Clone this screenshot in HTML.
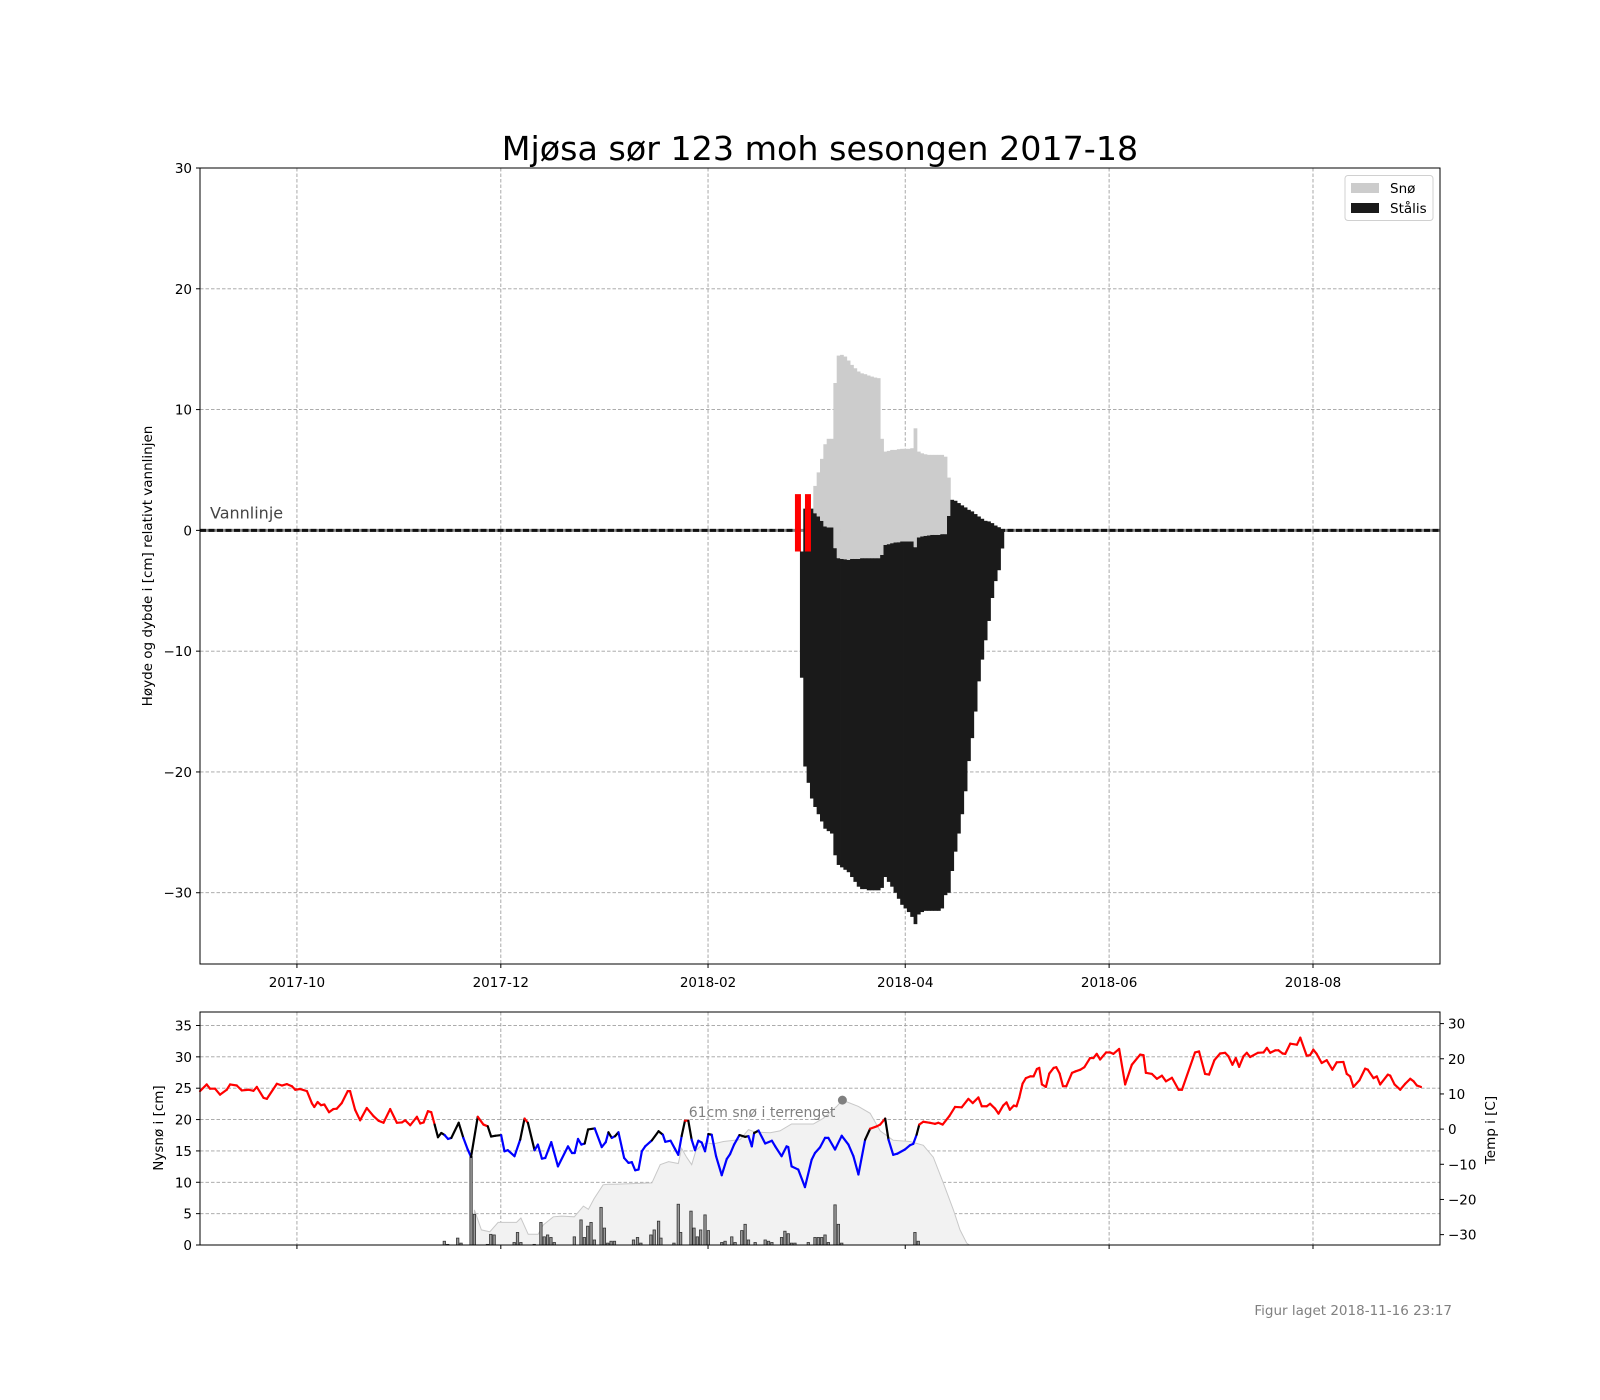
<!DOCTYPE html>
<html><head><meta charset="utf-8"><style>
html,body{margin:0;padding:0;background:#fff;}
svg{display:block;font-family:"DejaVu Sans","Liberation Sans",sans-serif;}
</style></head><body>
<svg id="fig" width="1600" height="1400" viewBox="0 0 1600 1400" xmlns="http://www.w3.org/2000/svg">
<rect width="1600" height="1400" fill="#fff"/>
<text x="820" y="160" font-size="33.3" text-anchor="middle" fill="#000">Mjøsa sør 123 moh sesongen 2017-18</text>
<text transform="translate(152,566) rotate(-90)" font-size="13.5" text-anchor="middle">Høyde og dybde i [cm] relativt vannlinjen</text>
<text transform="translate(163,1128) rotate(-90)" font-size="13.5" text-anchor="middle">Nysnø i [cm]</text>
<text transform="translate(1495,1130) rotate(-90)" font-size="13.5" text-anchor="middle">Temp i [C]</text>
<text x="1452" y="1315" font-size="13.5" text-anchor="end" fill="#808080">Figur laget 2018-11-16 23:17</text>
<g id="topg"></g>
<g id="botg"></g>
</svg>
<script>
// ---- top chart data ----
const monthTickDays = [29, 90, 152, 211, 272, 333];
const monthTickLabels = ['2017-10','2017-12','2018-02','2018-04','2018-06','2018-08'];
const yTicksTop = [30,20,10,0,-10,-20,-30];
const iceStartDay = 180;
const iceTop = [-1.75,1.8,-1.75,1.8,1.42,1.15,0.79,0.32,0.24,0.24,-1.47,-2.3,-2.36,-2.39,-2.44,-2.36,-2.36,-2.36,-2.3,-2.3,-2.3,-2.3,-2.3,-2.3,-2.03,-1.2,-1.14,-1.06,-1.0,-0.98,-0.92,-0.92,-0.92,-0.92,-1.39,-0.59,-0.5,-0.45,-0.42,-0.37,-0.37,-0.37,-0.31,-0.31,1.2,2.53,2.45,2.26,2.07,1.9,1.7,1.57,1.35,1.15,0.96,0.79,0.74,0.6,0.4,0.26,0.1];
const iceBottom = [-12.2,-19.55,-20.9,-22.2,-22.9,-23.5,-24.1,-24.7,-24.9,-25.1,-26.9,-27.7,-27.9,-28.1,-28.3,-28.7,-29.1,-29.5,-29.7,-29.7,-29.8,-29.8,-29.8,-29.8,-29.6,-28.7,-29.1,-29.5,-30.0,-30.5,-31.0,-31.3,-31.6,-32.0,-32.6,-31.8,-31.6,-31.5,-31.5,-31.5,-31.5,-31.5,-31.3,-30.2,-30.0,-28.2,-26.6,-25.1,-23.5,-21.6,-19.1,-17.2,-15.0,-12.5,-10.7,-9.1,-7.5,-5.6,-4.2,-3.3,-1.5];
const snowTop = [-1.75,1.8,-1.75,1.8,3.68,4.8,5.92,7.13,7.58,7.58,12.2,14.47,14.53,14.39,14.06,13.7,13.42,13.15,13.0,12.93,12.82,12.73,12.65,12.6,7.58,6.52,6.58,6.66,6.66,6.72,6.75,6.75,6.75,6.8,8.45,6.52,6.38,6.3,6.25,6.25,6.25,6.25,6.25,6.1,4.37,2.53,2.45,2.26,2.07,1.9,1.7,1.57,1.35,1.15,0.96,0.79,0.74,0.6,0.4,0.26,0.1];
const redMarkDays = [178.9, 181.9];
const redMarkTop = 3.0, redMarkBottom = -1.75;

// ---- bottom chart data ----
const nyTicks = [0,5,10,15,20,25,30,35];
const tempTicks = [-30,-20,-10,0,10,20,30];
const tempDays = [0,2,3,4.5,6,8,9,11,12.5,14.5,16,17,19,20,23,24.5,26,27.5,28.5,30,32,33.5,34.2,35.2,36.2,37.2,38.6,39.9,40.9,42.4,44.2,44.9,46.4,47.9,49.9,51.9,53.4,54.9,56.9,58.9,60.4,61.4,62.9,64.9,65.9,66.9,68.2,69.2,70.2,71.2,72.2,73.2,74.2,75.2,77.4,78.8,80.1,81.1,83.1,84.8,86.1,87.1,88.3,90.1,91.1,92.1,94.1,95.8,97.1,98.1,100.1,101.1,102.3,103.3,105.1,107.1,110.1,111.3,112.1,113.1,114.1,115.1,116.1,118.1,120.2,121.4,122.2,123.2,124.2,125.2,126.9,128.2,129.2,130.2,131.2,132.2,133.2,135.2,137.2,138.5,139.2,140.8,142.1,143.1,144.1,145.1,146.1,147.1,148.1,149.1,150.1,151.1,152.1,153.1,154.4,156.1,157.6,158.6,159.8,161.4,163.1,164.1,165.1,165.8,167.1,169.1,171.1,172.1,174.0,175.5,176.0,177.0,179.0,181.0,183.0,184.0,185.5,187.0,188.0,190.0,192.0,194.0,195.5,197.0,199.0,200.5,202.5,203.5,205.0,206.0,207.4,208.6,210.9,212.4,213.4,214.4,215.2,216.4,218.4,219.9,220.9,222.2,224.2,225.9,227.9,229.9,231.2,232.9,233.9,235.4,236.4,237.9,238.9,240.3,241.3,242.3,243.5,244.3,245.1,246.1,247.1,248.4,249.4,250.4,251.1,251.9,253.1,254.1,255.4,256.2,257.2,258.2,259.2,260.9,261.9,263.4,264.6,266.3,267.3,268.3,269.3,271.1,272.3,273.3,275.0,276.8,278.8,281.3,282.3,283.0,284.8,286.3,287.8,289.0,290.8,292.8,293.8,297.7,298.9,300.7,301.9,303.5,305.2,306.7,307.7,308.9,309.9,310.9,312.2,313.2,314.2,316.5,318.2,319.2,320.2,321.7,322.7,323.9,324.7,326.2,328.2,329.2,331.1,332.1,333.1,334.1,335.6,337.1,338.8,340.1,342.1,343.1,344.1,345.1,346.9,348.6,349.4,351.1,352.1,353.1,355.4,356.1,357.4,359.1,360.6,362.1,363.1,364.1,365.3];
const tempVals = [10.8,12.7,11.5,11.5,9.8,11.2,12.7,12.4,11.0,11.2,10.9,12.0,8.9,8.6,12.9,12.4,12.8,12.2,11.2,11.4,10.8,7.3,6.3,7.7,6.8,7.0,4.8,5.7,5.8,7.4,10.8,10.8,5.5,2.5,6.0,3.7,2.4,1.8,5.7,1.8,1.9,2.5,1.1,3.5,1.6,1.9,5.1,4.8,1.3,-2.3,-1.1,-1.7,-2.8,-2.5,1.8,-2.5,-5.8,-7.9,3.5,1.3,0.8,-2.1,-1.9,-1.7,-6.3,-6.0,-7.7,-3.0,3.0,1.8,-6.0,-4.4,-8.4,-8.2,-3.7,-10.6,-4.9,-6.8,-6.8,-2.8,-4.4,-4.1,-0.1,0.2,-5.1,-3.7,-0.9,-2.5,-2.0,-0.9,-8.2,-9.6,-9.4,-11.7,-11.5,-6.3,-4.9,-3.2,-0.6,-1.6,-3.6,-3.3,-5.6,-7.3,-2.0,2.4,2.4,-3.0,-6.0,-3.3,-3.8,-6.3,-1.4,-1.6,-7.7,-13.1,-8.5,-7.1,-4.4,-1.7,-2.2,-2.0,-4.9,-1.1,-0.4,-4.1,-3.3,-4.9,-7.7,-4.9,-5.1,-10.6,-11.5,-16.5,-8.7,-6.8,-5.2,-2.5,-2.5,-5.8,-1.9,-4.4,-7.7,-12.9,-3.0,0.1,0.8,1.3,3.0,-3.0,-7.3,-7.0,-5.8,-4.6,-4.2,-1.6,1.3,2.1,1.8,1.5,1.8,1.3,3.7,6.3,6.2,8.6,7.4,9.0,6.5,6.5,7.2,5.8,4.4,6.7,7.6,5.5,6.7,6.5,8.9,12.9,14.5,15.0,15.0,17.1,17.4,12.7,12.0,15.8,17.4,17.6,15.8,12.2,12.2,16.0,16.4,16.9,17.6,20.2,20.2,21.4,19.8,21.8,21.8,21.4,22.8,12.7,18.3,21.2,21.0,16.0,15.7,14.3,15.2,13.6,14.6,11.2,11.2,21.8,22.1,15.7,15.5,19.6,21.5,21.7,20.7,18.3,20.2,17.7,20.7,21.7,20.5,21.7,21.8,23.1,21.7,22.4,22.4,21.5,21.4,24.3,24.0,26.0,20.9,21.0,22.6,21.4,18.8,19.6,16.9,19.0,19.1,15.7,15.0,12.0,13.9,17.2,16.9,14.5,15.0,12.7,15.5,15.2,12.7,11.2,12.9,14.3,13.6,12.4,12.0];
const nyDays = [73.1,74.1,77.1,78.1,81.1,82.1,86.0,87.0,88.0,94.0,95.0,96.0,100.0,102.0,103.0,104.0,105.0,106.0,112.0,114.0,115.0,116.0,117.0,118.0,120.0,121.0,122.0,123.0,124.0,129.7,130.9,131.9,134.9,135.9,137.2,137.9,141.8,143.1,143.8,146.9,147.8,148.8,149.8,151.1,152.1,156.1,157.1,159.1,160.1,162.1,163.1,164.1,166.1,169.1,170.1,171.1,174.0,175.0,176.0,177.0,178.0,182.0,184.0,185.0,186.0,187.0,188.0,190.0,191.0,192.0,213.9,214.9];
const nyVals = [0.6,0.1,1.1,0.3,14.1,4.9,0.1,1.7,1.6,0.4,2.0,0.4,0.1,3.6,1.3,1.6,1.2,0.4,1.3,4.0,1.2,3.0,3.6,0.8,6.0,2.7,0.3,0.6,0.6,0.8,1.2,0.3,1.6,2.4,3.8,1.1,0.3,6.5,2.0,5.4,2.7,1.3,2.4,4.8,2.3,0.4,0.6,1.3,0.4,2.3,3.3,0.8,0.4,0.8,0.6,0.4,1.2,2.2,1.8,0.3,0.3,0.4,1.2,1.2,1.2,1.6,0.4,6.4,3.3,0.3,2.0,0.6];
const terrDays = [81.8,82.1,84.2,86.7,89.2,91.7,94.7,96.0,98.2,101.2,102.7,105.7,108.2,112.0,114.7,116.2,117.9,120.6,122.1,124.1,135.2,137.7,140.2,143.1,144.1,145.6,147.1,148.4,150.1,151.6,153.6,156.6,161.6,164.1,166.1,170.6,173.5,177.0,183.5,186.5,190.5,192.2,197.0,200.5,203.5,207.4,212.4,216.4,219.4,222.4,225.4,227.4,229.4,230.2];
const terrVals = [0,5.6,2.4,2.1,3.6,3.6,3.6,4.3,1.7,1.7,3.2,4.5,4.6,4.5,6.2,5.7,7.4,9.6,9.7,9.7,9.9,12.8,13.3,13.0,15.4,14.0,12.8,15.1,15.9,16.3,16.1,16.5,16.8,18.4,18.0,17.9,18.2,19.3,19.3,20.2,22.1,23.1,22.1,21.0,18.2,16.7,16.5,15.9,14.0,9.9,5.6,2.4,0.3,0];
const maxSnowDay = 192.2, maxSnowVal = 23.1;
const maxSnowLabel = '61cm snø i terrenget';

// ---- scales ----
const NS='http://www.w3.org/2000/svg';
const X0=200, X1=1440, D0=0, D1=371;
function x(d){return X0+(d-D0)*(X1-X0)/(D1-D0);}
const TY0=168, TY1=964, TV0=30, TV1=-35.9;
function yT(v){return TY0+(TV0-v)*(TY1-TY0)/(TV0-TV1);}
const BY0=1012, BY1=1245, BV0=37.15, BV1=0;
function yB(v){return BY0+(BV0-v)*(BY1-BY0)/(BV0-BV1);}
const RV0=33.3, RV1=-32.95;
function yR(v){return BY0+(RV0-v)*(BY1-BY0)/(RV0-RV1);}
function mk(tag,attrs,parent){const e=document.createElementNS(NS,tag);for(const k in attrs)e.setAttribute(k,attrs[k]);parent.appendChild(e);return e;}
const topG=document.getElementById('topg'), botG=document.getElementById('botg');
const dayW=(X1-X0)/(D1-D0);

// top grid
yTicksTop.forEach(v=>{
  const g=mk('line',{x1:X0,x2:X1,y1:yT(v),y2:yT(v),stroke:'#a0a0a0','stroke-width':0.9,'stroke-dasharray':'3.5,2'},topG);
  
  
  const t=mk('line',{x1:X0-4,x2:X0,y1:yT(v),y2:yT(v),stroke:'#000','stroke-width':1},topG);
  
  
  const l=mk('text',{x:X0-8,y:yT(v)+5,'font-size':13.5,'text-anchor':'end'},topG);
  
  
  l.textContent=(v<0?'\u2212'+(-v):v);
});
monthTickDays.forEach((d,i)=>{
  const g=mk('line',{x1:x(d),x2:x(d),y1:TY0,y2:TY1,stroke:'#a0a0a0','stroke-width':0.9,'stroke-dasharray':'3.5,2'},topG);
  
  
  const t=mk('line',{x1:x(d),x2:x(d),y1:TY1,y2:TY1+4,stroke:'#000','stroke-width':1},topG);
  
  
  const l=mk('text',{x:x(d),y:TY1+23,'font-size':13.5,'text-anchor':'middle'},topG);
  
  
  l.textContent=monthTickLabels[i];
});
// water line
const wl=mk('line',{x1:X0,x2:X1,y1:yT(0),y2:yT(0),stroke:'#888','stroke-width':3},topG);


const wl2=mk('line',{x1:X0,x2:X1,y1:yT(0),y2:yT(0),stroke:'#111','stroke-width':3,'stroke-dasharray':'6,2.5'},topG);


const wt=mk('text',{x:210,y:yT(0)-12,'font-size':16,fill:'#444'},topG);


wt.textContent='Vannlinje';
// ice bars
iceTop.forEach((v,i)=>{
  const d=iceStartDay+i;
  const xl=x(d-0.5);
  const b=mk('rect',{x:xl,y:yT(v),width:dayW+0.4,height:yT(iceBottom[i])-yT(v),fill:'#1a1a1a'},topG);
  
  
  if(snowTop[i]>v){
    const s=mk('rect',{x:xl,y:yT(snowTop[i]),width:dayW+0.4,height:yT(v)-yT(snowTop[i]),fill:'#cccccc'},topG);
    
    
  }
});
redMarkDays.forEach(d=>{
  const r=mk('rect',{x:x(d)-3,y:yT(redMarkTop),width:6,height:yT(redMarkBottom)-yT(redMarkTop),fill:'#ff0000'},topG);
  
  
});
const tf=mk('rect',{x:X0,y:TY0,width:X1-X0,height:TY1-TY0,fill:'none',stroke:'#000','stroke-width':1},topG);


// legend
const lg=mk('g',{},topG);


const lb=mk('rect',{x:1345,y:175.5,width:88,height:45,rx:3,fill:'#fff','fill-opacity':0.85,stroke:'#d0d0d0'},lg);


[['Snø','#cccccc'],['Stålis','#1a1a1a']].forEach((e,i)=>{
  const sw=mk('rect',{x:1351,y:183+i*20,width:28,height:10,fill:e[1]},lg);
  
  
  const tx=mk('text',{x:1390,y:193+i*20,'font-size':13.5},lg);
  
  
  tx.textContent=e[0];
});

// ---- bottom chart ----
nyTicks.forEach(v=>{
  if(v>0){
    const g=mk('line',{x1:X0,x2:X1,y1:yB(v),y2:yB(v),stroke:'#a0a0a0','stroke-width':0.9,'stroke-dasharray':'3.5,2'},botG);
    
    
  }
  const t=mk('line',{x1:X0-4,x2:X0,y1:yB(v),y2:yB(v),stroke:'#000'},botG);
  
  
  const l=mk('text',{x:X0-8,y:yB(v)+5,'font-size':13.5,'text-anchor':'end'},botG);
  
  
  l.textContent=v;
});
tempTicks.forEach(v=>{
  const t=mk('line',{x1:X1,x2:X1+4,y1:yR(v),y2:yR(v),stroke:'#000'},botG);
  
  
  const l=mk('text',{x:X1+8,y:yR(v)+5,'font-size':13.5},botG);
  
  
  l.textContent=(v<0?'\u2212'+(-v):v);
});
monthTickDays.forEach(d=>{
  const g=mk('line',{x1:x(d),x2:x(d),y1:BY0,y2:BY1,stroke:'#a0a0a0','stroke-width':0.9,'stroke-dasharray':'3.5,2'},botG);
  
  
  const t=mk('line',{x1:x(d),x2:x(d),y1:BY1,y2:BY1+4,stroke:'#000'},botG);
  
  
});
// terrain snow area
let ap='M'+x(terrDays[0])+','+yB(0);
terrDays.forEach((d,i)=>{ap+=' L'+x(d).toFixed(1)+','+yB(terrVals[i]).toFixed(1);});
ap+=' L'+x(terrDays[terrDays.length-1])+','+yB(0)+' Z';
const area=mk('path',{d:ap,fill:'#f2f2f2',stroke:'#c8c8c8','stroke-width':1},botG);


// new snow bars
nyDays.forEach((d,i)=>{
  const r=mk('rect',{x:x(d)-1.2,y:yB(nyVals[i]),width:2.4,height:yB(0)-yB(nyVals[i]),fill:'#999',stroke:'#333','stroke-width':0.8},botG);
  
  
});
// temperature line
for(let i=0;i<tempDays.length-1;i++){
  const m=(tempVals[i]+tempVals[i+1])/2;
  const c=m>0.3?'#ff0000':(m<-2.2?'#0000ff':'#000');
  const s=mk('line',{x1:x(tempDays[i]),y1:yR(tempVals[i]),x2:x(tempDays[i+1]),y2:yR(tempVals[i+1]),stroke:c,'stroke-width':2.2,'stroke-linecap':'round'},botG);
  
  
}
const dot=mk('circle',{cx:x(maxSnowDay),cy:yB(maxSnowVal),r:4.5,fill:'#808080'},botG);


const an=mk('text',{x:x(maxSnowDay)-7,y:yB(maxSnowVal)+17,'font-size':14,'text-anchor':'end',fill:'#808080'},botG);


an.textContent=maxSnowLabel;
const bf=mk('rect',{x:X0,y:BY0,width:X1-X0,height:BY1-BY0,fill:'none',stroke:'#000','stroke-width':1},botG);


</script>
</body></html>
